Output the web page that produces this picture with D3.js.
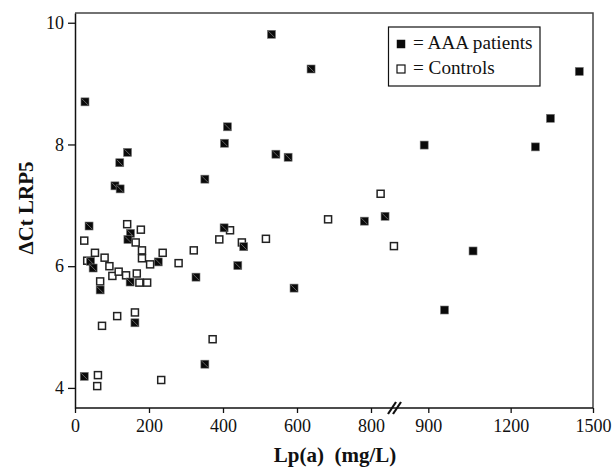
<!DOCTYPE html>
<html>
<head>
<meta charset="utf-8">
<script src="https://cdn.jsdelivr.net/npm/d3@7"></script>
<style>
  body { margin: 0; background: #fff; }
  svg text { font-family: "Liberation Serif", Tinos, Times, "DejaVu Serif", serif; fill: #111; }
</style>
</head>
<body>
<svg id="chart" width="614" height="467"></svg>
<script>
// Lp(a) (mg/L) vs delta Ct LRP5
let patientsLp = [27, 142, 121, 108, 122, 412, 404, 351, 531, 638, 543, 576, 885, 838, 782, 1063, 959, 1450, 1345, 1290,
    592, 403, 456, 440, 327, 225, 38, 150, 143, 42, 49, 149, 68, 162, 351, 25];
let patientsCt = [8.70, 7.87, 7.70, 7.32, 7.27, 8.29, 8.02, 7.43, 9.81, 9.24, 7.84, 7.79, 7.99, 6.82, 6.74, 6.25, 5.28, 9.20, 8.43, 7.96,
    5.64, 6.63, 6.32, 6.01, 5.82, 6.07, 6.66, 6.54, 6.44, 6.08, 5.97, 5.74, 5.61, 5.07, 4.39, 4.19];

let controlsLp = [25, 141, 178, 164, 181, 181, 203, 237, 54, 33, 80, 93, 101, 118, 138, 167, 174, 195, 68, 73,
    114, 162, 372, 62, 60, 233, 419, 390, 451, 321, 280, 516, 684, 826, 862];
let controlsCt = [6.42, 6.69, 6.60, 6.39, 6.26, 6.13, 6.03, 6.22, 6.22, 6.09, 6.14, 6.00, 5.84, 5.91, 5.85, 5.88, 5.73, 5.73, 5.75, 5.02,
    5.18, 5.24, 4.80, 4.21, 4.03, 4.13, 6.59, 6.44, 6.39, 6.26, 6.05, 6.45, 6.77, 7.19, 6.33];

let xTicksLeft = [0, 200, 400, 600, 800];
let xTicksRight = [900, 1200, 1500];
let yTicks = [4, 6, 8, 10];
let legendLabels = ['= AAA patients', '= Controls'];

let mLeft = 75, mRight = 593, mTop = 13, mBottom = 408;
let breakValue = 870;
let serif = '"Liberation Serif", Tinos, Times, "DejaVu Serif", serif';

let svg = d3.select('#chart');

// broken x axis: two linear pieces
let xLeft = d3.scaleLinear().domain([0, 800]).range([mLeft, 371]);
let xRight = d3.scaleLinear().domain([900, 1500]).range([428.3, mRight]);
let x = v => v <= breakValue ? xLeft(v) : xRight(v);

let y = d3.scaleLinear().domain([3.67, 10.16]).range([mBottom, mTop]);

// frame (top and right)
svg.append('path')
    .attr('d', `M${mLeft},${mTop}H${mRight}V${mBottom}`)
    .attr('fill', 'none')
    .attr('stroke', '#444')
    .attr('stroke-width', 1.5);

// y axis
let yAxis = svg.append('g')
    .attr('transform', `translate(${mLeft},0)`)
    .call(d3.axisLeft(y).tickValues(yTicks).tickFormat(d3.format('d')).tickSize(7).tickSizeOuter(0).tickPadding(4));
yAxis.attr('font-family', serif);
yAxis.select('.domain').attr('stroke', '#111').attr('stroke-width', 1.5);
yAxis.selectAll('.tick line').attr('stroke', '#111').attr('stroke-width', 1.3);
yAxis.selectAll('.tick text').attr('font-size', '18px');

// x axis pieces
[[xLeft, xTicksLeft], [xRight, xTicksRight]].forEach(function (p) {
    let g = svg.append('g')
        .attr('transform', `translate(0,${mBottom})`)
        .call(d3.axisBottom(p[0]).tickValues(p[1]).tickFormat(d3.format('d')).tickSize(5).tickSizeOuter(0).tickPadding(6));
    g.attr('font-family', serif);
    g.select('.domain').remove();
    g.selectAll('.tick line').attr('stroke', '#111').attr('stroke-width', 1.3);
    g.selectAll('.tick text').attr('font-size', '18px');
});

svg.append('line')
    .attr('x1', mLeft).attr('x2', mRight)
    .attr('y1', mBottom).attr('y2', mBottom)
    .attr('stroke', '#111')
    .attr('stroke-width', 1.5);

// break mark //
[0, 5].forEach(function (dx) {
    svg.append('line')
        .attr('x1', 388 + dx).attr('y1', mBottom + 6)
        .attr('x2', 396 + dx).attr('y2', mBottom - 6)
        .attr('stroke', '#111')
        .attr('stroke-width', 2.2);
});

// controls (open squares)
let s = 7;
svg.append('g')
    .selectAll('rect')
    .data(controlsLp.map((d, i) => ({ lp: d, ct: controlsCt[i] })))
    .join('rect')
    .attr('x', d => x(d.lp) - s / 2)
    .attr('y', d => y(d.ct) - s / 2)
    .attr('width', s)
    .attr('height', s)
    .attr('fill', '#fff')
    .attr('stroke', '#222')
    .attr('stroke-width', 1.5);

// patients (filled squares, hatched on the left piece)
let pts = svg.append('g')
    .selectAll('g')
    .data(patientsLp.map((d, i) => ({ lp: d, ct: patientsCt[i] })))
    .join('g')
    .attr('transform', d => `translate(${x(d.lp)},${y(d.ct)})`);

pts.append('rect')
    .attr('x', -s / 2 - 0.5)
    .attr('y', -s / 2 - 0.5)
    .attr('width', s + 1)
    .attr('height', s + 1)
    .attr('fill', '#0a0a0a')
    .attr('stroke', '#777')
    .attr('stroke-width', 0.6);

pts.filter(d => d.lp <= breakValue)
    .append('line')
    .attr('x1', -3).attr('y1', -3)
    .attr('x2', 3).attr('y2', 3)
    .attr('stroke', '#888')
    .attr('stroke-width', 0.7);

// legend
let legend = svg.append('g');
legend.append('rect')
    .attr('x', 388.5).attr('y', 27)
    .attr('width', 151.5).attr('height', 59)
    .attr('fill', '#fff')
    .attr('stroke', '#111')
    .attr('stroke-width', 1.2);

legendLabels.forEach(function (t, i) {
    let cy = 44 + i * 25;
    legend.append('rect')
        .attr('x', 397).attr('y', cy - 4)
        .attr('width', 8).attr('height', 8)
        .attr('fill', i == 0 ? '#0a0a0a' : '#fff')
        .attr('stroke', '#111')
        .attr('stroke-width', i == 0 ? 0.5 : 1.2);
    legend.append('text')
        .attr('x', 413).attr('y', cy + 5)
        .attr('font-family', serif)
        .attr('font-size', '19.2px')
        .text(t);
});

// axis titles
svg.append('text')
    .attr('x', 335).attr('y', 462)
    .attr('text-anchor', 'middle')
    .attr('font-family', serif)
    .attr('font-size', '21px')
    .attr('font-weight', 'bold')
    .style('white-space', 'pre')
    .text('Lp(a)  (mg/L)');

svg.append('text')
    .attr('transform', 'translate(33,208) rotate(-90)')
    .attr('text-anchor', 'middle')
    .attr('font-family', serif)
    .attr('font-size', '21px')
    .attr('font-weight', 'bold')
    .text('ΔCt LRP5');
</script>
</body>
</html>
